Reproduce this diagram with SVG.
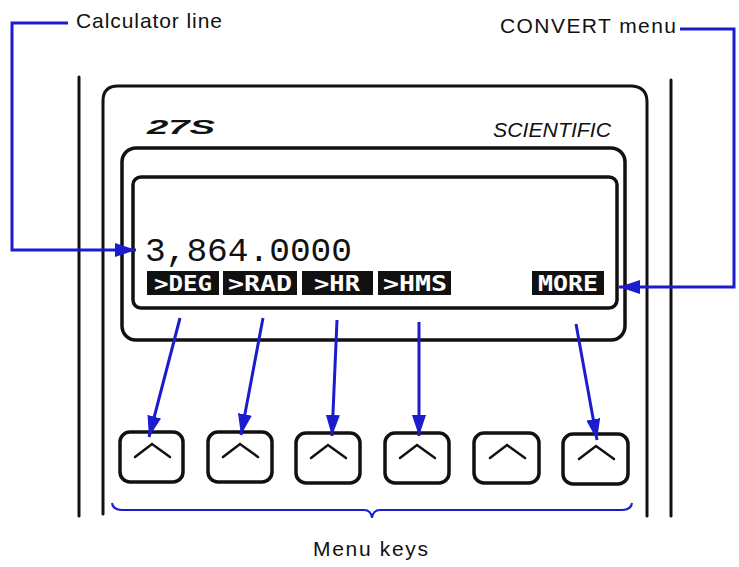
<svg xmlns="http://www.w3.org/2000/svg" width="739" height="567" viewBox="0 0 739 567">
<defs>
<style>
.ln{fill:none;stroke:#111;stroke-width:3;stroke-linecap:round;stroke-linejoin:round}
.frm{fill:none;stroke:#111;stroke-width:3.5}
.key{fill:none;stroke:#111;stroke-width:3.5}
.car{fill:none;stroke:#111;stroke-width:2.5;stroke-linecap:round;stroke-linejoin:miter}
.bl{fill:none;stroke:#1c1ccf;stroke-width:3}
.lbl{font-family:"Liberation Sans",Arial,sans-serif;font-size:21px;fill:#111}
.mbox{fill:#111}
.mtx{font-family:"DejaVu Sans Mono","Liberation Mono",monospace;font-weight:bold;font-size:21px;fill:#fff;text-anchor:middle}
</style>
<marker id="ah" markerUnits="userSpaceOnUse" markerWidth="24" markerHeight="16" refX="21" refY="7" orient="auto">
<path d="M0,0 L21,7 L0,14 z" fill="#1c1ccf"/>
</marker>
</defs>
<rect width="739" height="567" fill="#fff"/>

<g id="calculator-body">
<line class="ln" x1="79" y1="77" x2="79" y2="516"/>
<line class="ln" x1="671" y1="80" x2="671" y2="516"/>
<path class="ln" d="M103,514 V101 Q103,86 118,86 H632 Q647,87 647,102 V516"/>
<text x="147" y="134" font-family="Liberation Sans,Arial,sans-serif" font-weight="bold" font-style="italic" font-size="21" textLength="68" lengthAdjust="spacingAndGlyphs" fill="#111">27S</text>
<text x="493" y="137" font-family="Liberation Sans,Arial,sans-serif" font-style="italic" font-size="20" textLength="118" lengthAdjust="spacingAndGlyphs" fill="#111">SCIENTIFIC</text>
</g>

<g id="display">
<rect class="frm" x="122" y="148" width="503" height="192" rx="14"/>
<rect class="frm" x="133" y="177" width="484" height="131" rx="8"/>
<text id="calculator-line-value" x="145" y="261" font-family="Liberation Mono,Courier New,monospace" font-size="33" textLength="207" lengthAdjust="spacingAndGlyphs" fill="#111">3,864.0000</text>
</g>

<g id="menu-labels">
<g id="m-deg"><rect class="mbox" x="147" y="271" width="72" height="24"/><text class="mtx" x="183" y="291" textLength="58" lengthAdjust="spacingAndGlyphs">&gt;DEG</text></g>
<g id="m-rad"><rect class="mbox" x="223" y="271" width="74" height="24"/><text class="mtx" x="260" y="291" textLength="64" lengthAdjust="spacingAndGlyphs">&gt;RAD</text></g>
<g id="m-hr"><rect class="mbox" x="302" y="271" width="71" height="24"/><text class="mtx" x="337" y="291" textLength="46" lengthAdjust="spacingAndGlyphs">&gt;HR</text></g>
<g id="m-hms"><rect class="mbox" x="378" y="271" width="73" height="24"/><text class="mtx" x="415" y="291" textLength="64" lengthAdjust="spacingAndGlyphs">&gt;HMS</text></g>
<g id="m-more"><rect class="mbox" x="532" y="271" width="72" height="24"/><text class="mtx" x="568" y="291" textLength="60" lengthAdjust="spacingAndGlyphs">MORE</text></g>
</g>

<g id="keys">
<g id="key1"><rect class="key" x="120" y="432" width="63" height="50" rx="10"/><path class="car" d="M135,457 L152,444 L170,457"/></g>
<g id="key2"><rect class="key" x="208" y="432" width="64" height="50" rx="10"/><path class="car" d="M223,457 L240,444 L258,457"/></g>
<g id="key3"><rect class="key" x="296" y="433" width="64" height="50" rx="10"/><path class="car" d="M311,458 L328,445 L346,458"/></g>
<g id="key4"><rect class="key" x="385" y="433" width="64" height="50" rx="10"/><path class="car" d="M400,458 L417,445 L435,458"/></g>
<g id="key5"><rect class="key" x="474" y="433" width="65" height="50" rx="10"/><path class="car" d="M490,458 L507,445 L525,458"/></g>
<g id="key6"><rect class="key" x="563" y="434" width="65" height="50" rx="10"/><path class="car" d="M579,459 L596,446 L614,459"/></g>
</g>

<g id="labels">
<text class="lbl" x="76" y="28" textLength="146" lengthAdjust="spacing">Calculator line</text>
<text class="lbl" x="500" y="33" textLength="176" lengthAdjust="spacing">CONVERT  menu</text>
<text class="lbl" x="313" y="556" textLength="115" lengthAdjust="spacing">Menu keys</text>
</g>

<g id="connectors">
<path class="bl" d="M68,23 H12 V250 H136" marker-end="url(#ah)"/>
<path class="bl" d="M680,29 H734 V287 H619" marker-end="url(#ah)"/>
<line class="bl" x1="180" y1="318" x2="149" y2="437" marker-end="url(#ah)"/>
<line class="bl" x1="263" y1="318" x2="241" y2="435" marker-end="url(#ah)"/>
<line class="bl" x1="337" y1="320" x2="332" y2="436" marker-end="url(#ah)"/>
<line class="bl" x1="419" y1="322" x2="419" y2="436" marker-end="url(#ah)"/>
<line class="bl" x1="576" y1="324" x2="597" y2="440" marker-end="url(#ah)"/>
<path d="M112,503 Q113,510 122,510 H364 Q371,510 372,518 Q373,510 380,510 H622 Q631,510 632,503" fill="none" stroke="#1c1ccf" stroke-width="2"/>
</g>
</svg>
